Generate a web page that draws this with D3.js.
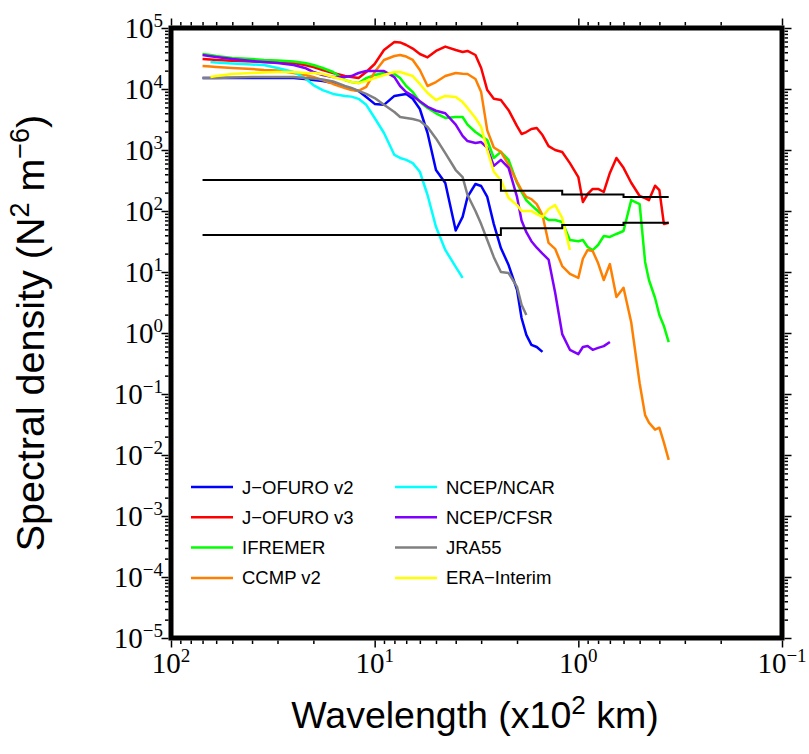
<!DOCTYPE html>
<html>
<head>
<meta charset="utf-8">
<script src="https://d3js.org/d3.v7.min.js"></script>
<style>
  body { margin: 0; background: #fff; }
</style>
</head>
<body>
<div id="chart"></div>
<script>
// wavelength grid (x10^2 km), shared by every spectrum
var wavelength = [70, 64, 60, 50, 40, 35, 30, 25, 22, 20,
  18, 16, 14, 13, 12, 11, 10, 9, 8, 7.5,
  7, 6.5, 6, 5.5, 5, 4.5, 4, 3.7, 3.5, 3.2,
  3, 2.8, 2.6, 2.4, 2.2, 2, 1.9, 1.8, 1.7, 1.6,
  1.5, 1.4, 1.3, 1.2, 1.1, 1, 0.95, 0.9, 0.85, 0.8,
  0.75, 0.7, 0.65, 0.6, 0.55, 0.5, 0.47, 0.45, 0.42, 0.4,
  0.38, 0.36];

// spectral density (N^2 m^-6) at each wavelength, null = no data
var jofuro2 = [1.51e4, 1.51e4, 1.51e4, 1.51e4, 1.51e4, 1.51e4, 1.51e4, 1.51e4, 1.46e4, 1.4e4,
  1.35e4, 1.25e4, 1.08e4, 1.0e4, 9.3e3, 7.4e3, 5.7e3, 5.5e3, 7.7e3, 8.0e3,
  8.3e3, 6.9e3, 4.7e3, 1.9e3, 470, 288, 48, 80, 170, 277,
  257, 170, 61, 24.7, 13, 5.1, 1.76, 0.93, 0.64, 0.59,
  0.49];
var jofuro3 = [3.1e4, 3.05e4, 3.0e4, 2.9e4, 2.83e4, 2.77e4, 2.72e4, 2.67e4, 2.47e4, 2.29e4,
  2.05e4, 1.83e4, 1.63e4, 1.57e4, 1.51e4, 1.9e4, 2.57e4, 4.36e4, 5.9e4, 5.8e4,
  5.26e4, 4.6e4, 3.75e4, 3.3e4, 4.2e4, 4.96e4, 4.36e4, 4.04e4, 4.2e4, 3.61e4,
  2.21e4, 9.6e3, 6.9e3, 6.6e3, 4.5e3, 2.47e3, 1.83e3, 1.97e3, 2.21e3, 2.29e3,
  1.76e3, 1.16e3, 1.0e3, 930, 610, 360, 140, 190, 230, 230,
  205, 420, 740, 510, 290, 176, 163, 151, 260, 220,
  61, 64];
var ifremer = [3.75e4, 3.6e4, 3.48e4, 3.22e4, 3.1e4, 2.99e4, 2.94e4, 2.83e4, 2.67e4, 2.47e4,
  2.21e4, 1.9e4, 1.4e4, 1.3e4, 1.25e4, 1.51e4, 1.7e4, 1.83e4, 1.76e4, 1.51e4,
  1.12e4, 8.9e3, 6.1e3, 4.9e3, 4.0e3, 3.35e3, 3.48e3, 3.48e3, 2.6e3, 1.97e3,
  1.7e3, 1.46e3, 740, 930, 690, 288, 205, 150, 125, 104,
  83, 71, 71, 66, 33.5, 32, 33.5, 25.7, 22.9, 27.7,
  38.9, 37.5, 42, 47, 151, 130, 14.6, 7.4, 3.75, 1.97,
  1.3, 0.71];
var ccmp2 = [2.38e4, 2.33e4, 2.29e4, 2.21e4, 2.13e4, 2.05e4, 2.01e4, 1.83e4, 1.7e4, 1.57e4,
  1.4e4, 1.21e4, 1.04e4, 9.6e3, 9.3e3, 1.08e4, 1.9e4, 2.99e4, 3.48e4, 3.61e4,
  3.4e4, 2.99e4, 2.05e4, 1.12e4, 1.3e4, 1.63e4, 1.83e4, 1.78e4, 1.76e4, 1.46e4,
  8.9e3, 2.1e3, 1.1e3, 930, 570, 300, 220, 170, 157, 130,
  86, 30, 24, 12.5, 9.3, 8.0, 16.5, 23, 22, 14,
  7.4, 13.5, 3.9, 5.5, 1.5, 0.15, 0.045, 0.034, 0.026, 0.028,
  0.016, 0.0083];
var ncar = [null, 2.77e4, 2.72e4, 2.62e4, 2.52e4, 2.47e4, 2.21e4, 1.9e4, 1.51e4, 1.16e4,
  9.6e3, 8.3e3, 7.7e3, 7.5e3, 6.9e3, 5.5e3, 3.35e3, 1.9e3, 830, 740,
  690, 610, 440, 183, 55, 23, 12.1, 8.0];
var cfsr = [3.61e4, 3.45e4, 3.35e4, 3.1e4, 2.88e4, 2.77e4, 2.67e4, 2.47e4, 2.21e4, 1.9e4,
  1.7e4, 1.57e4, 1.57e4, 1.63e4, 1.83e4, 1.97e4, 1.97e4, 1.97e4, 1.57e4, 1.12e4,
  8.9e3, 7.7e3, 6.3e3, 5.1e3, 4.4e3, 4.0e3, 2.6e3, 1.7e3, 1.4e3, 1.3e3,
  1.35e3, 1.08e3, 550, 690, 510, 170, 70, 45, 32, 25,
  20, 16, 4.6, 0.96, 0.53, 0.45, 0.59, 0.61, 0.53, 0.57,
  0.61, 0.71];
var jra55 = [1.51e4, 1.51e4, 1.51e4, 1.54e4, 1.57e4, 1.57e4, 1.57e4, 1.57e4, 1.51e4, 1.48e4,
  1.43e4, 1.33e4, 1.12e4, 1.04e4, 9.3e3, 8.3e3, 7.1e3, 5.5e3, 4.2e3, 3.48e3,
  3.35e3, 3.22e3, 3.0e3, 2.38e3, 1.55e3, 890, 470, 360, 183, 100,
  61, 33.5, 17.5, 10, 9.6, 5.7, 2.9, 1.97];
var eraInterim = [null, 1.57e4, 1.63e4, 1.76e4, 1.83e4, 1.86e4, 1.9e4, 1.9e4, 1.83e4, 1.83e4,
  1.76e4, 1.57e4, 1.4e4, 1.3e4, 1.25e4, 1.35e4, 1.51e4, 1.7e4, 1.9e4, 1.9e4,
  1.76e4, 1.63e4, 1.21e4, 8.6e3, 6.6e3, 7.7e3, 7.4e3, 6.1e3, 4.9e3, 3.35e3,
  2.4e3, 1.0e3, 440, 320, 163, 125, 100, 100, 100, 89,
  80, 108, 125, 77, 23];

var seriesNames = ["J\u2212OFURO v2", "J\u2212OFURO v3", "IFREMER", "CCMP v2",
  "NCEP/NCAR", "NCEP/CFSR", "JRA55", "ERA\u2212Interim"];
var seriesValues = [jofuro2, jofuro3, ifremer, ccmp2, ncar, cfsr, jra55, eraInterim];
var seriesColors = ["#0000ff", "#ff0000", "#00ff00", "#ff8000",
  "#00ffff", "#8000ff", "#808080", "#ffff00"];

// confidence interval (step lines)
var ciWave = [70, 2.4, 1.2, 0.6, 0.36];
var ciUpper = [322, 215, 186, 170, 170];
var ciLower = [40.4, 52, 59, 64, 64];

// tick exponents
var xTickExp = [2, 1, 0, -1];
var yTickExp = [-5, -4, -3, -2, -1, 0, 1, 2, 3, 4, 5];

var width = 809, height = 754;
var plotL = 171, plotR = 782, plotT = 28, plotB = 638;

var svg = d3.select("#chart")
  .append("svg")
    .attr("width", width)
    .attr("height", height);

var x = d3.scaleLog().domain([100, 0.1]).range([plotL, plotR]);
var y = d3.scaleLog().domain([1e-5, 1e5]).range([plotB, plotT]);

// minor ticks at 2..9 in each decade
function minors(lo, hi) {
  var out = [];
  for (var e = lo; e < hi; e++) {
    for (var k = 2; k <= 9; k++) out.push(k * Math.pow(10, e));
  }
  return out;
}
var xMajor = xTickExp.map(function(e) { return Math.pow(10, e); });
var yMajor = yTickExp.map(function(e) { return Math.pow(10, e); });
var xMinor = minors(-1, 2);
var yMinor = minors(-5, 5);

var half = 2.5; // half the frame width
function addAxis(axisFn, scale, values, size, transform) {
  var g = svg.append("g")
    .attr("transform", transform)
    .call(axisFn(scale).tickValues(values).tickSize(size).tickFormat(""));
  g.select(".domain").remove();
  g.selectAll("line").attr("stroke", "#000").attr("stroke-width", 1.5);
}
[[xMajor, 7], [xMinor, 3.5]].forEach(function(t) {
  addAxis(d3.axisTop, x, t[0], t[1], "translate(0," + (plotT - half) + ")");
  addAxis(d3.axisBottom, x, t[0], t[1], "translate(0," + (plotB + half) + ")");
});
[[yMajor, 7], [yMinor, 3.5]].forEach(function(t) {
  addAxis(d3.axisLeft, y, t[0], t[1], "translate(" + (plotL - half) + ",0)");
  addAxis(d3.axisRight, y, t[0], t[1], "translate(" + (plotR + half) + ",0)");
});

function expText(e) { return e < 0 ? "\u2212" + (-e) : String(e); }

// tick labels, 10 with a superscript exponent
var yLab = svg.append("g").selectAll("text")
  .data(yTickExp)
  .join("text")
    .attr("x", plotL - 8)
    .attr("y", function(d) { return y(Math.pow(10, d)) + 10; })
    .attr("text-anchor", "end")
    .style("font-family", "'Liberation Serif', 'Times New Roman', serif")
    .style("font-size", "29px");
yLab.append("tspan").text("10");
yLab.append("tspan").attr("dy", -11).style("font-size", "19px").text(function(d) { return expText(d); });

var xLab = svg.append("g").selectAll("text")
  .data(xTickExp)
  .join("text")
    .attr("x", function(d) { return x(Math.pow(10, d)); })
    .attr("y", 673)
    .attr("text-anchor", "middle")
    .style("font-family", "'Liberation Serif', 'Times New Roman', serif")
    .style("font-size", "29px");
xLab.append("tspan").text("10");
xLab.append("tspan").attr("dy", -11).style("font-size", "19px").text(function(d) { return expText(d); });

// axis titles
var yTitle = svg.append("text")
  .attr("transform", "translate(44,333) rotate(-90)")
  .attr("text-anchor", "middle")
  .style("font-family", "'Liberation Sans', Arial, sans-serif")
  .style("font-size", "39.5px");
yTitle.append("tspan").text("Spectral density (N");
yTitle.append("tspan").attr("dy", -15).style("font-size", "27px").text("2");
yTitle.append("tspan").attr("dy", 15).text(" m");
yTitle.append("tspan").attr("dy", -15).style("font-size", "27px").text("\u22126");
yTitle.append("tspan").attr("dy", 15).text(")");

var xTitle = svg.append("text")
  .attr("x", 475)
  .attr("y", 728)
  .attr("text-anchor", "middle")
  .style("font-family", "'Liberation Sans', Arial, sans-serif")
  .style("font-size", "37.5px");
xTitle.append("tspan").text("Wavelength (x10");
xTitle.append("tspan").attr("dy", -14).style("font-size", "26px").text("2");
xTitle.append("tspan").attr("dy", 14).text(" km)");

// spectra
var line = d3.line()
  .defined(function(d) { return d.v != null; })
  .x(function(d) { return x(d.w); })
  .y(function(d) { return y(d.v); });

seriesValues.forEach(function(vals, i) {
  var pts = vals.map(function(v, j) { return { w: wavelength[j], v: v }; });
  svg.append("path")
    .datum(pts)
    .attr("d", line)
    .attr("fill", "none")
    .attr("stroke", seriesColors[i])
    .attr("stroke-width", 2.5)
    .attr("stroke-linejoin", "round");
});

// confidence interval lines
var stepLine = d3.line()
  .curve(d3.curveStepAfter)
  .x(function(d) { return x(d.w); })
  .y(function(d) { return y(d.v); });
[ciUpper, ciLower].forEach(function(vals) {
  svg.append("path")
    .datum(vals.map(function(v, j) { return { w: ciWave[j], v: v }; }))
    .attr("d", stepLine)
    .attr("fill", "none")
    .attr("stroke", "#000")
    .attr("stroke-width", 2);
});

// legend, two columns of four
var legend = svg.append("g").selectAll("g")
  .data(seriesNames)
  .join("g")
    .attr("transform", function(d, i) {
      return "translate(" + (i < 4 ? 191 : 395) + "," + (487 + (i % 4) * 30.3) + ")";
    });
legend.append("line")
  .attr("x1", 0).attr("x2", 42)
  .attr("stroke", function(d, i) { return seriesColors[i]; })
  .attr("stroke-width", 2.5);
legend.append("text")
  .attr("x", 51)
  .attr("y", 6.5)
  .style("font-family", "'Liberation Sans', Arial, sans-serif")
  .style("font-size", "18.5px")
  .text(function(d) { return d; });

// frame
svg.append("rect")
  .attr("x", plotL).attr("y", plotT)
  .attr("width", plotR - plotL).attr("height", plotB - plotT)
  .attr("fill", "none")
  .attr("stroke", "#000")
  .attr("stroke-width", 5);
</script>
</body>
</html>
